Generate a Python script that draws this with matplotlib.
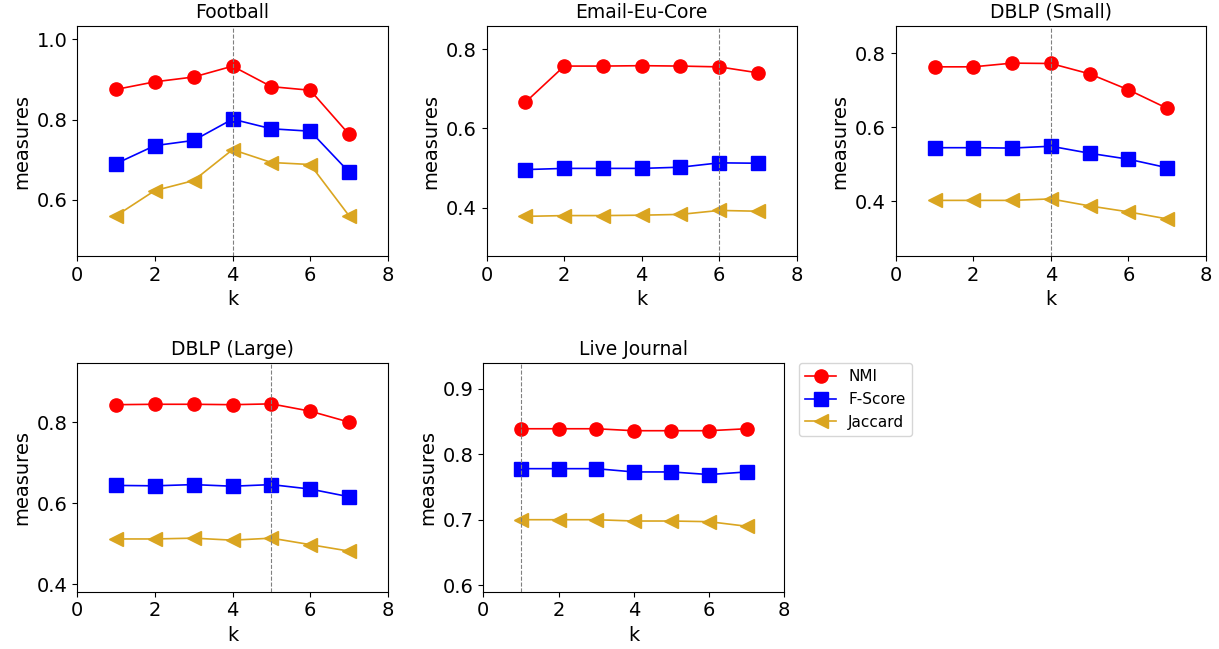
import numpy as np
import matplotlib
matplotlib.use("Agg")
import matplotlib.pyplot as plt
from matplotlib.ticker import MultipleLocator

plt.rcParams["font.family"] = ["DejaVu Sans"]
plt.rcParams["font.size"] = 14

# ---- data ----
k = [1, 2, 3, 4, 5, 6, 7]
titles = ["Football", "Email-Eu-Core", "DBLP (Small)", "DBLP (Large)", "Live Journal"]
best_k = [4, 6, 4, 5, 1]

nmi = [
    [0.875, 0.894, 0.906, 0.933, 0.882, 0.873, 0.763],
    [0.666, 0.757, 0.757, 0.758, 0.757, 0.755, 0.740],
    [0.763, 0.763, 0.773, 0.772, 0.744, 0.701, 0.651],
    [0.843, 0.844, 0.844, 0.843, 0.845, 0.827, 0.800],
    [0.839, 0.839, 0.839, 0.836, 0.836, 0.836, 0.839],
]
fscore = [
    [0.690, 0.735, 0.748, 0.801, 0.777, 0.771, 0.669],
    [0.496, 0.499, 0.499, 0.499, 0.502, 0.513, 0.512],
    [0.545, 0.545, 0.544, 0.549, 0.530, 0.514, 0.491],
    [0.644, 0.643, 0.646, 0.642, 0.646, 0.635, 0.616],
    [0.778, 0.778, 0.778, 0.773, 0.773, 0.769, 0.773],
]
jaccard = [
    [0.560, 0.623, 0.648, 0.725, 0.693, 0.688, 0.560],
    [0.378, 0.380, 0.380, 0.381, 0.383, 0.393, 0.391],
    [0.403, 0.403, 0.403, 0.407, 0.388, 0.372, 0.353],
    [0.512, 0.512, 0.514, 0.509, 0.514, 0.498, 0.482],
    [0.700, 0.700, 0.700, 0.698, 0.698, 0.697, 0.690],
]
ytick_step = [0.2, 0.2, 0.2, 0.2, 0.1]

# axes rectangles (figure fractions)
rects = [
    [0.0632, 0.6055, 0.2551, 0.3544],
    [0.3993, 0.6055, 0.2543, 0.3544],
    [0.7348, 0.6055, 0.2546, 0.3544],
    [0.0632, 0.0883, 0.2551, 0.3519],
    [0.3965, 0.0883, 0.2469, 0.3519],
]

fig = plt.figure(figsize=(12.19, 6.49), dpi=100)
for i in range(5):
    ax = fig.add_axes(rects[i])
    ax.plot(k, nmi[i], color="red", marker="o", ms=9.5, lw=1.2, label="NMI")
    ax.plot(k, fscore[i], color="blue", marker="s", ms=9.5, lw=1.2, label="F-Score")
    ax.plot(k, jaccard[i], color="goldenrod", marker="<", ms=10, lw=1.2, label="Jaccard")
    ax.axvline(best_k[i], color="grey", ls="--", lw=0.8)
    lo = min(jaccard[i]) - 0.1
    hi = max(nmi[i]) + 0.1
    ax.set_ylim(lo, hi)
    ax.set_xlim(0, 8)
    ax.set_xticks([0, 2, 4, 6, 8])
    ax.yaxis.set_major_locator(MultipleLocator(ytick_step[i]))
    ax.set_title(titles[i], fontsize=13.5)
    ax.set_xlabel("k")
    ax.set_ylabel("measures")
    if i == 4:
        ax.legend(loc="upper left", bbox_to_anchor=(1.05, 1.0), borderaxespad=0,
                  fontsize=11)

fig.savefig("out.png", dpi=100)
